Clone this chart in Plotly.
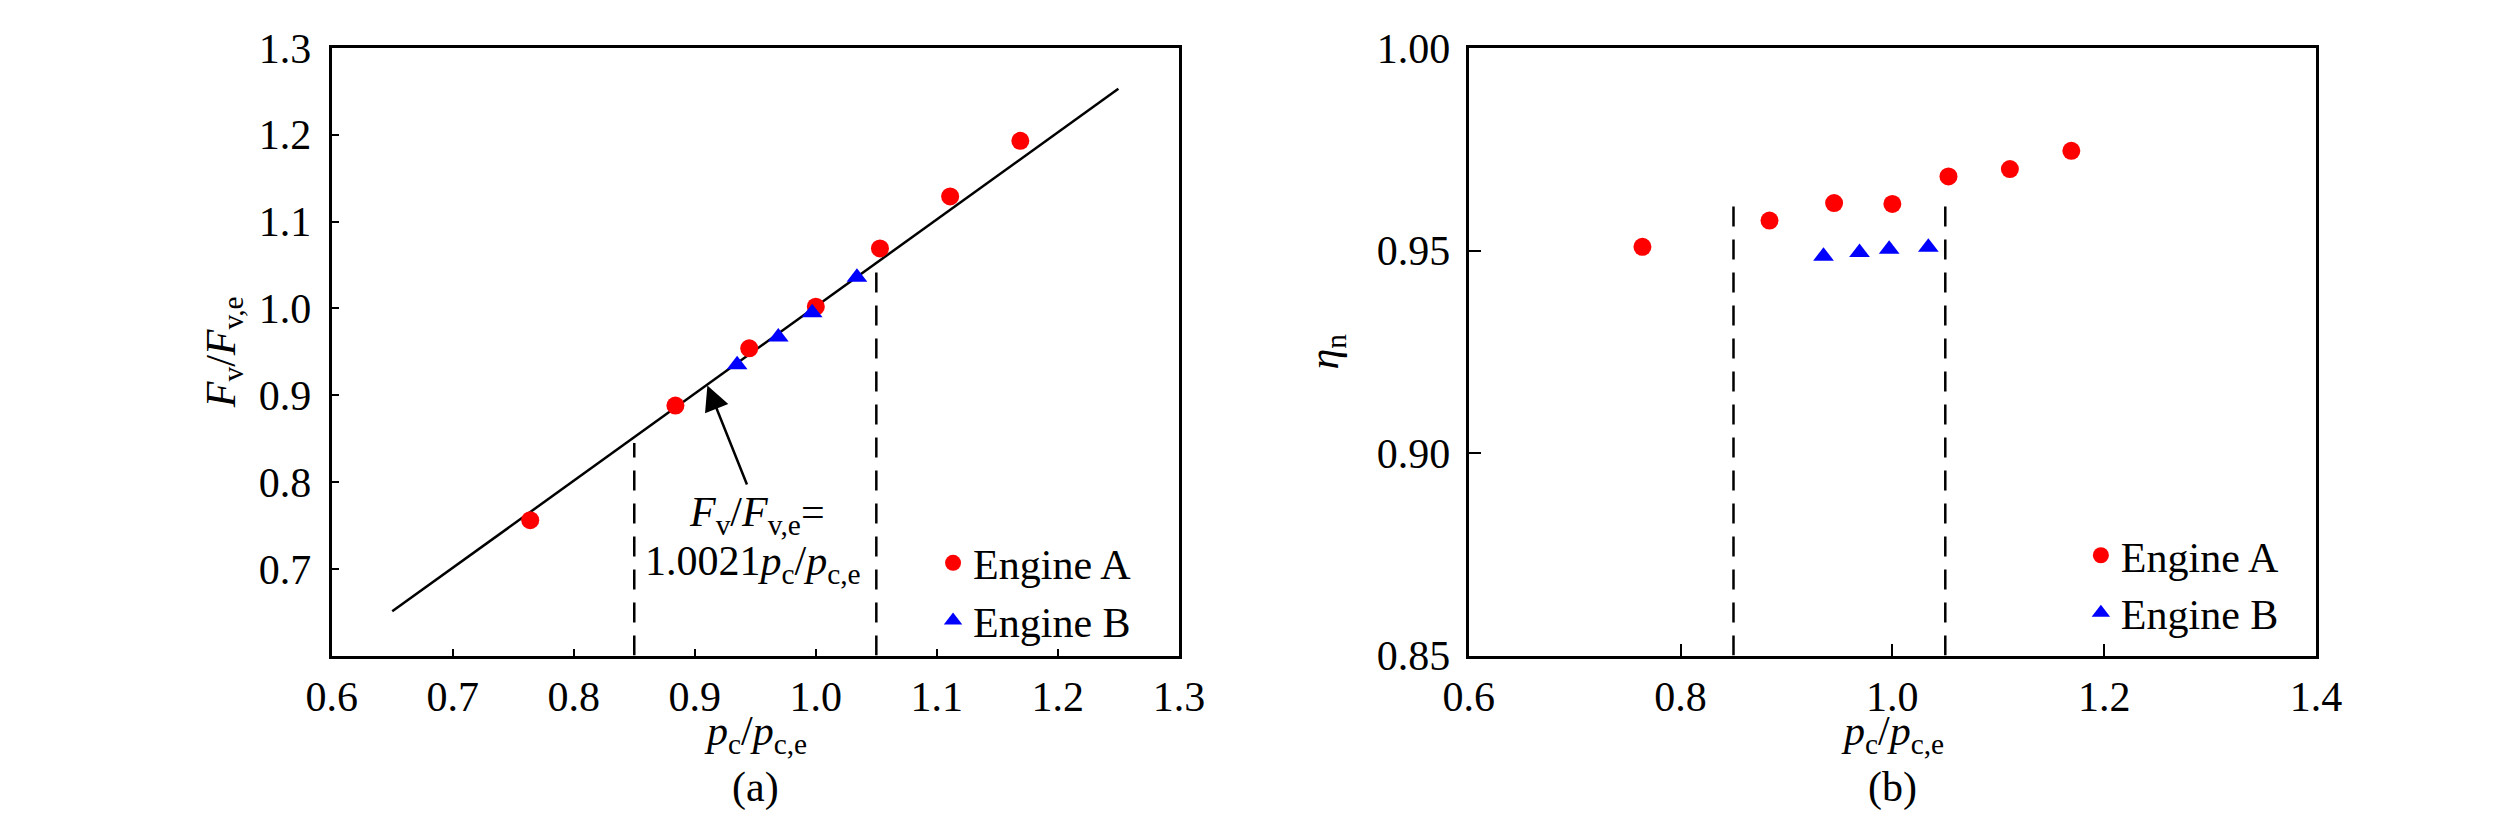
import plotly.graph_objects as go

a_x = [0.764, 0.884, 0.945, 1.000, 1.053, 1.111, 1.169]
a_force = [0.756, 0.888, 0.954, 1.002, 1.069, 1.129, 1.193]
a_eta = [0.9509, 0.9574, 0.9617, 0.9615, 0.9683, 0.9701, 0.9746]

b_x = [0.935, 0.969, 0.997, 1.034]
b_force = [0.935, 0.967, 0.995, 1.036]
b_eta = [0.9486, 0.9495, 0.9503, 0.9508]

# fit F_v/F_v,e = 1.0021 p_c/p_c,e
fit_x = [0.65, 1.25]
fit_y = [0.651, 1.253]

# limits of the engine-B range (dashed)
lim_x = [0.85, 1.05]
lim_top_a = [0.845, 1.05]
lim_top_b = [0.962, 0.962]

xa_ticks = [0.6, 0.7, 0.8, 0.9, 1.0, 1.1, 1.2, 1.3]
ya_ticks = [0.7, 0.8, 0.9, 1.0, 1.1, 1.2, 1.3]
xb_ticks = [0.6, 0.8, 1.0, 1.2, 1.4]
yb_ticks = [0.85, 0.90, 0.95, 1.00]

FONT = "Liberation Serif"
RED = "#ff0000"
BLUE = "#0000ff"
W, H = 2520, 837

fig = go.Figure()

# ---- panel (a)
fig.add_trace(go.Scatter(x=fit_x, y=fit_y, mode="lines",
                         line=dict(color="black", width=2.5),
                         showlegend=False, xaxis="x", yaxis="y"))
for lx, top in zip(lim_x, lim_top_a):
    fig.add_trace(go.Scatter(x=[lx, lx], y=[0.6, top], mode="lines",
                             line=dict(color="black", width=2.5, dash="20px,13px"),
                             showlegend=False, xaxis="x", yaxis="y"))
fig.add_trace(go.Scatter(x=a_x, y=a_force, mode="markers", name="Engine A",
                         marker=dict(size=18, color=RED, symbol="circle"),
                         xaxis="x", yaxis="y", legend="legend"))
fig.add_trace(go.Scatter(x=b_x, y=b_force, mode="markers", name="Engine B",
                         marker=dict(size=18, color=BLUE, symbol="triangle-up"),
                         xaxis="x", yaxis="y", legend="legend"))

# ---- panel (b)
for lx, top in zip(lim_x, lim_top_b):
    fig.add_trace(go.Scatter(x=[lx, lx], y=[0.85, top], mode="lines",
                             line=dict(color="black", width=2.5, dash="20px,13px"),
                             showlegend=False, xaxis="x2", yaxis="y2"))
fig.add_trace(go.Scatter(x=a_x, y=a_eta, mode="markers", name="Engine A",
                         marker=dict(size=18, color=RED, symbol="circle"),
                         xaxis="x2", yaxis="y2", legend="legend2"))
fig.add_trace(go.Scatter(x=b_x, y=b_eta, mode="markers", name="Engine B",
                         marker=dict(size=18, color=BLUE, symbol="triangle-up"),
                         xaxis="x2", yaxis="y2", legend="legend2"))

tick_font = dict(family=FONT, size=42, color="black")


def axis(domain, rng, ticks, fmt, ticklen, standoff, anchor, title=None, title_standoff=0):
    ax = dict(domain=domain, range=rng, tickvals=ticks,
              ticktext=[fmt.format(t) for t in ticks],
              showline=True, mirror=True, linecolor="black", linewidth=3,
              ticks="inside", ticklen=ticklen, tickwidth=2, tickcolor="black",
              ticklabelstandoff=standoff, ticklabeloverflow="allow",
              showgrid=False, zeroline=False,
              tickfont=tick_font, anchor=anchor)
    if title:
        ax["title"] = dict(text=title, font=tick_font, standoff=title_standoff)
    return ax


dom_a = [304 / W, 1169 / W]
dom_b = [1465 / W, 2330 / W]
dom_y = [1 - 662 / H, 1 - 19 / H]

fig.update_layout(
    width=W, height=H,
    margin=dict(l=0, r=0, t=0, b=0),
    paper_bgcolor="white", plot_bgcolor="white",
    font=dict(family=FONT, size=42, color="black"),
    xaxis=axis(dom_a, [0.6, 1.3], xa_ticks, "{:.1f}", 7, 2, "y"),
    yaxis=axis(dom_y, [0.6, 1.3], ya_ticks, "{:.1f}", 7, 9, "x",
               "<i>F</i><sub>v</sub>/<i>F</i><sub>v,e</sub>", 11),
    xaxis2=axis(dom_b, [0.6, 1.4], xb_ticks, "{:.1f}", 12, 2, "y2"),
    yaxis2=axis(dom_y, [0.85, 1.00], yb_ticks, "{:.2f}", 12, 7, "x2",
                "<i>η</i><sub>n</sub>", 26),
    legend=dict(x=918 / W, y=1 - 528 / H, xanchor="left", yanchor="top",
                bgcolor="rgba(0,0,0,0)", font=dict(family=FONT, size=42),
                tracegroupgap=0),
    legend2=dict(x=2090 / W, y=1 - 520 / H, xanchor="left", yanchor="top",
                 bgcolor="rgba(0,0,0,0)", font=dict(family=FONT, size=42),
                 tracegroupgap=0),
)

fig.add_annotation(x=0.9104, y=0.9112, ax=0.9436, ay=0.7953,
                   xref="x", yref="y", axref="x", ayref="y",
                   text="", showarrow=True, arrowhead=2, arrowsize=2,
                   arrowwidth=2.5, arrowcolor="black", standoff=0)
fig.add_annotation(x=0.951, y=0.762, xref="x", yref="y", showarrow=False,
                   text="<i>F</i><sub>v</sub>/<i>F</i><sub>v,e</sub>=",
                   font=dict(family=FONT, size=42),
                   xanchor="center", yanchor="middle")
fig.add_annotation(x=0.948, y=0.706, xref="x", yref="y", showarrow=False,
                   text="1.0021<i>p</i><sub>c</sub>/<i>p</i><sub>c,e</sub>",
                   font=dict(family=FONT, size=42),
                   xanchor="center", yanchor="middle")

# x-axis titles and panel labels
x_title = "<i>p</i><sub>c</sub>/<i>p</i><sub>c,e</sub>"
for cx, label in [(736.5 / W, "(a)"), (1897.5 / W, "(b)")]:
    fig.add_annotation(x=cx, y=1 - 745 / H, xref="paper", yref="paper",
                       text=x_title, showarrow=False,
                       xanchor="center", yanchor="middle",
                       font=dict(family=FONT, size=42))
    fig.add_annotation(x=cx, y=1 - 802 / H, xref="paper", yref="paper",
                       text=label, showarrow=False,
                       xanchor="center", yanchor="middle",
                       font=dict(family=FONT, size=42))

fig.write_html("out.html")
